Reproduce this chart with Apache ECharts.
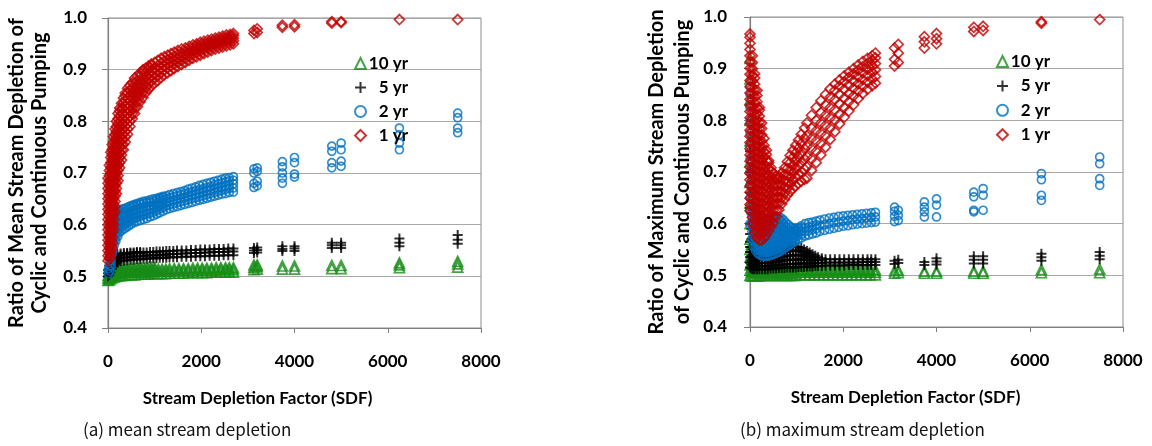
<!DOCTYPE html>
<html>
<head>
<meta charset="utf-8">
<script src="https://cdn.jsdelivr.net/npm/echarts@6/dist/echarts.min.js"></script>
<style>
  html, body { margin: 0; padding: 0; background: #fff; }
  #chart { width: 1152px; height: 446px; }
</style>
</head>
<body>
<div id="chart"></div>
<script>
// each column is [SDF, [ratios read at that SDF]]
const seriesNames = ['10 yr', '5 yr', '2 yr', '1 yr']
const xTicks = [0, 2000, 4000, 6000, 8000]
const yTicks = [0.4, 0.5, 0.6, 0.7, 0.8, 0.9, 1.0]

// (a) mean stream depletion
const meanYr10 = [
  [0, [0.492, 0.497, 0.502]], [25, [0.493, 0.498, 0.503, 0.508]], [50, [0.495, 0.5, 0.505, 0.51]],
  [90, [0.497, 0.502, 0.507, 0.512]], [130, [0.499, 0.504, 0.509, 0.513]], [180, [0.5, 0.505, 0.51, 0.514]],
  [240, [0.501, 0.506, 0.511, 0.514]], [300, [0.502, 0.507, 0.511, 0.515]], [370, [0.502, 0.507, 0.512, 0.515]],
  [440, [0.503, 0.508, 0.512, 0.515]], [510, [0.503, 0.508, 0.512, 0.516]], [580, [0.503, 0.508, 0.512, 0.516]],
  [650, [0.504, 0.509, 0.513, 0.516]], [720, [0.504, 0.509, 0.513, 0.516]], [790, [0.504, 0.509, 0.513, 0.516]],
  [860, [0.504, 0.509, 0.513, 0.517]], [930, [0.505, 0.509, 0.513, 0.517]], [1000, [0.505, 0.51, 0.514, 0.517]],
  [1080, [0.505, 0.51, 0.514]], [1160, [0.505, 0.51, 0.514]], [1240, [0.505, 0.51, 0.514]],
  [1320, [0.506, 0.51, 0.515]], [1420, [0.506, 0.511, 0.515]], [1520, [0.506, 0.511, 0.515]],
  [1620, [0.506, 0.511, 0.515]], [1720, [0.507, 0.511, 0.515]], [1820, [0.507, 0.511, 0.516]],
  [1920, [0.507, 0.512, 0.516]], [2020, [0.507, 0.512, 0.516]], [2120, [0.507, 0.512, 0.516]],
  [2220, [0.508, 0.512, 0.516]], [2320, [0.508, 0.512, 0.517]], [2420, [0.508, 0.513, 0.517]],
  [2520, [0.508, 0.513, 0.517]], [2600, [0.508, 0.513, 0.517]], [2690, [0.508, 0.513, 0.517]],
  [3130, [0.513, 0.518, 0.522]], [3200, [0.514, 0.519, 0.522]], [3740, [0.514, 0.52]], [4000, [0.514, 0.52]],
  [4800, [0.515, 0.521]], [5000, [0.515, 0.521]], [6250, [0.517, 0.522, 0.526]], [7500, [0.518, 0.524, 0.529]]
]
const meanYr5 = [
  [0, [0.5, 0.506, 0.512]], [25, [0.503, 0.509, 0.515, 0.521]], [50, [0.508, 0.514, 0.52, 0.526, 0.532]],
  [80, [0.514, 0.52, 0.526, 0.532, 0.538]], [120, [0.52, 0.526, 0.532, 0.538]], [160, [0.524, 0.53, 0.536, 0.541]],
  [200, [0.527, 0.533, 0.539, 0.543]], [270, [0.529, 0.535, 0.541, 0.544]], [340, [0.53, 0.536, 0.542, 0.545]],
  [410, [0.531, 0.537, 0.543, 0.545]], [480, [0.532, 0.538, 0.544, 0.546]], [550, [0.532, 0.538, 0.544, 0.546]],
  [620, [0.533, 0.539, 0.545, 0.547]], [690, [0.533, 0.539, 0.545, 0.547]], [760, [0.534, 0.54, 0.546]],
  [830, [0.534, 0.54, 0.546]], [900, [0.535, 0.541, 0.547]], [970, [0.535, 0.541, 0.547]],
  [1040, [0.535, 0.541, 0.548]], [1110, [0.536, 0.542, 0.548]], [1180, [0.536, 0.542, 0.548]],
  [1250, [0.536, 0.542, 0.549]], [1320, [0.537, 0.543, 0.549]], [1400, [0.537, 0.543, 0.549]],
  [1480, [0.537, 0.543, 0.55]], [1580, [0.538, 0.544, 0.55]], [1680, [0.538, 0.544, 0.55]],
  [1780, [0.538, 0.545, 0.551]], [1880, [0.539, 0.545, 0.551]], [1980, [0.539, 0.545, 0.552]],
  [2080, [0.539, 0.546, 0.552]], [2180, [0.54, 0.546, 0.552]], [2280, [0.54, 0.547, 0.553]],
  [2380, [0.54, 0.547, 0.553]], [2480, [0.541, 0.547, 0.553]], [2580, [0.541, 0.548, 0.554]],
  [2690, [0.541, 0.548, 0.554]],
  [3130, [0.545, 0.55, 0.555]], [3200, [0.546, 0.551, 0.556]], [3740, [0.549, 0.553, 0.558]],
  [4000, [0.549, 0.554, 0.558]], [4800, [0.555, 0.56, 0.565]], [5000, [0.555, 0.56, 0.565]],
  [6250, [0.558, 0.565, 0.573]], [7500, [0.563, 0.571, 0.58]]
]
const meanYr2 = [
  [10, [0.505, 0.515]], [40, [0.51, 0.52, 0.53, 0.54, 0.55, 0.56, 0.57, 0.58]],
  [70, [0.52, 0.53, 0.54, 0.55, 0.56, 0.57, 0.58, 0.59, 0.6]],
  [100, [0.545, 0.553, 0.561, 0.569, 0.577, 0.585, 0.593, 0.601, 0.609, 0.615]],
  [135, [0.56, 0.568, 0.576, 0.584, 0.592, 0.6, 0.608, 0.616, 0.621]],
  [170, [0.568, 0.576, 0.584, 0.592, 0.6, 0.608, 0.616, 0.624]],
  [210, [0.577, 0.585, 0.593, 0.601, 0.609, 0.617, 0.625]],
  [250, [0.585, 0.593, 0.601, 0.609, 0.617, 0.625, 0.628]],
  [300, [0.589, 0.597, 0.605, 0.613, 0.621, 0.63]], [350, [0.592, 0.6, 0.608, 0.616, 0.624, 0.631]],
  [400, [0.595, 0.603, 0.611, 0.619, 0.627, 0.633]], [450, [0.598, 0.606, 0.614, 0.622, 0.63, 0.635]],
  [500, [0.601, 0.609, 0.617, 0.625, 0.633, 0.637]], [560, [0.604, 0.612, 0.62, 0.628, 0.636, 0.639]],
  [620, [0.606, 0.614, 0.622, 0.63, 0.638, 0.641]], [690, [0.608, 0.616, 0.624, 0.632, 0.64, 0.643]],
  [760, [0.61, 0.618, 0.626, 0.634, 0.641, 0.645]], [830, [0.612, 0.62, 0.628, 0.636, 0.643, 0.646]],
  [900, [0.615, 0.622, 0.629, 0.636, 0.643, 0.648]], [970, [0.617, 0.624, 0.631, 0.638, 0.645, 0.65]],
  [1040, [0.62, 0.627, 0.634, 0.641, 0.648, 0.651]], [1110, [0.623, 0.63, 0.637, 0.644, 0.65, 0.653]],
  [1180, [0.626, 0.633, 0.64, 0.647, 0.653, 0.655]], [1250, [0.629, 0.636, 0.643, 0.65, 0.656]],
  [1320, [0.631, 0.638, 0.645, 0.652, 0.658]], [1400, [0.633, 0.64, 0.647, 0.654, 0.66]],
  [1480, [0.635, 0.642, 0.649, 0.656, 0.662]], [1560, [0.637, 0.644, 0.651, 0.658, 0.664]],
  [1640, [0.639, 0.646, 0.653, 0.66, 0.666]], [1720, [0.641, 0.648, 0.655, 0.662, 0.669]],
  [1800, [0.643, 0.65, 0.657, 0.664, 0.671]], [1880, [0.645, 0.652, 0.659, 0.666, 0.673]],
  [1960, [0.647, 0.654, 0.661, 0.668, 0.676]], [2040, [0.649, 0.656, 0.663, 0.67, 0.678]],
  [2120, [0.651, 0.658, 0.665, 0.672, 0.68]], [2200, [0.653, 0.66, 0.667, 0.674, 0.682]],
  [2280, [0.655, 0.662, 0.669, 0.677, 0.684]], [2360, [0.657, 0.664, 0.671, 0.679, 0.686]],
  [2440, [0.659, 0.666, 0.673, 0.681, 0.688]], [2520, [0.66, 0.668, 0.675, 0.683, 0.69]],
  [2600, [0.662, 0.67, 0.677, 0.685, 0.691]], [2690, [0.663, 0.671, 0.679, 0.686, 0.693]],
  [3130, [0.672, 0.68, 0.7, 0.708]], [3200, [0.675, 0.684, 0.703, 0.71]],
  [3740, [0.68, 0.69, 0.7, 0.712, 0.722]], [4000, [0.692, 0.698, 0.72, 0.73]],
  [4800, [0.71, 0.72, 0.742, 0.752]], [5000, [0.713, 0.723, 0.745, 0.758]],
  [6250, [0.745, 0.758, 0.774, 0.787]], [7500, [0.778, 0.787, 0.807, 0.816]]
]
const meanYr1 = [
  [0, [0.53, 0.54, 0.55, 0.56, 0.57, 0.58, 0.59, 0.6, 0.61, 0.62, 0.63, 0.64, 0.65, 0.66, 0.67, 0.68, 0.69]],
  [30, [0.535, 0.545, 0.555, 0.565, 0.575, 0.585, 0.595, 0.605, 0.615, 0.625, 0.635, 0.645, 0.655, 0.665,
        0.675, 0.685, 0.695, 0.705, 0.715]],
  [60, [0.54, 0.55, 0.56, 0.57, 0.58, 0.59, 0.6, 0.61, 0.62, 0.63, 0.64, 0.65, 0.66, 0.67, 0.68, 0.69,
        0.7, 0.71, 0.72, 0.73, 0.74]],
  [90, [0.555, 0.565, 0.575, 0.585, 0.595, 0.605, 0.615, 0.625, 0.635, 0.645, 0.655, 0.665, 0.675, 0.685,
        0.695, 0.705, 0.715, 0.725, 0.735, 0.745, 0.755]],
  [120, [0.59, 0.6, 0.61, 0.62, 0.63, 0.64, 0.65, 0.66, 0.67, 0.68, 0.69, 0.7, 0.71, 0.72, 0.73, 0.74,
         0.75, 0.76, 0.77]],
  [150, [0.625, 0.635, 0.645, 0.655, 0.665, 0.675, 0.685, 0.695, 0.705, 0.715, 0.725, 0.735, 0.745, 0.755,
         0.765, 0.775, 0.785]],
  [180, [0.66, 0.67, 0.68, 0.69, 0.7, 0.71, 0.72, 0.73, 0.74, 0.75, 0.76, 0.77, 0.78, 0.79, 0.8]],
  [215, [0.685, 0.695, 0.705, 0.715, 0.725, 0.735, 0.745, 0.755, 0.765, 0.775, 0.785, 0.795, 0.805, 0.815]],
  [250, [0.71, 0.72, 0.73, 0.74, 0.75, 0.76, 0.77, 0.78, 0.79, 0.8, 0.81, 0.82, 0.826]],
  [290, [0.725, 0.735, 0.745, 0.755, 0.765, 0.775, 0.785, 0.795, 0.805, 0.815, 0.825, 0.835]],
  [330, [0.745, 0.755, 0.765, 0.775, 0.785, 0.795, 0.805, 0.815, 0.825, 0.835, 0.845]],
  [370, [0.76, 0.77, 0.78, 0.79, 0.8, 0.81, 0.82, 0.83, 0.84, 0.85, 0.855]],
  [420, [0.775, 0.785, 0.795, 0.805, 0.815, 0.825, 0.835, 0.845, 0.855, 0.864]],
  [470, [0.79, 0.8, 0.81, 0.82, 0.83, 0.84, 0.85, 0.86, 0.87]],
  [520, [0.805, 0.815, 0.825, 0.835, 0.845, 0.855, 0.865, 0.875]],
  [570, [0.815, 0.825, 0.835, 0.845, 0.855, 0.865, 0.875, 0.884]],
  [630, [0.828, 0.838, 0.848, 0.858, 0.868, 0.878, 0.888]],
  [690, [0.838, 0.848, 0.858, 0.868, 0.878, 0.888, 0.894]],
  [750, [0.846, 0.856, 0.866, 0.876, 0.886, 0.896, 0.9]],
  [810, [0.855, 0.865, 0.875, 0.885, 0.895, 0.903]],
  [870, [0.862, 0.872, 0.882, 0.892, 0.902, 0.907]],
  [930, [0.868, 0.878, 0.888, 0.898, 0.908, 0.911]],
  [1000, [0.874, 0.884, 0.894, 0.904, 0.914]], [1070, [0.879, 0.888, 0.898, 0.908, 0.918]],
  [1140, [0.885, 0.894, 0.903, 0.913, 0.922]], [1210, [0.89, 0.899, 0.908, 0.917, 0.925]],
  [1280, [0.894, 0.903, 0.912, 0.92, 0.928]], [1350, [0.898, 0.907, 0.915, 0.923, 0.931]],
  [1420, [0.902, 0.91, 0.918, 0.926, 0.934]], [1500, [0.906, 0.914, 0.922, 0.93, 0.937]],
  [1580, [0.91, 0.918, 0.926, 0.933, 0.94]], [1660, [0.914, 0.921, 0.929, 0.936, 0.942]],
  [1740, [0.918, 0.925, 0.932, 0.939, 0.945]], [1820, [0.922, 0.929, 0.936, 0.942, 0.948]],
  [1900, [0.925, 0.932, 0.939, 0.945, 0.95]], [1980, [0.928, 0.935, 0.942, 0.948, 0.953]],
  [2060, [0.931, 0.938, 0.944, 0.95, 0.955]], [2140, [0.934, 0.941, 0.947, 0.952, 0.957]],
  [2220, [0.937, 0.943, 0.949, 0.954, 0.959]], [2300, [0.94, 0.946, 0.951, 0.956, 0.961]],
  [2380, [0.942, 0.948, 0.953, 0.958, 0.963]], [2460, [0.944, 0.95, 0.955, 0.96, 0.965]],
  [2540, [0.946, 0.952, 0.957, 0.962, 0.967]], [2620, [0.948, 0.954, 0.959, 0.964, 0.968]],
  [2690, [0.95, 0.956, 0.961, 0.966, 0.97]],
  [3130, [0.97, 0.976]], [3200, [0.972, 0.979]], [3740, [0.982, 0.986]], [4000, [0.983, 0.987]],
  [4800, [0.99, 0.993]], [5000, [0.991, 0.993]], [6250, [0.997]], [7500, [0.997]]
]

// (b) maximum stream depletion
const maxYr10 = [
  [0, [0.5, 0.51, 0.52, 0.535, 0.55, 0.57, 0.6, 0.64, 0.68, 0.72, 0.76, 0.8, 0.84, 0.88, 0.92]],
  [30, [0.499, 0.507, 0.515, 0.523, 0.533, 0.545, 0.56]], [60, [0.499, 0.506, 0.513, 0.52, 0.528, 0.537]],
  [100, [0.499, 0.505, 0.511, 0.517, 0.524]], [150, [0.499, 0.505, 0.511, 0.517]],
  [200, [0.499, 0.505, 0.511, 0.515]], [260, [0.5, 0.505, 0.51]], [320, [0.5, 0.505, 0.51]],
  [380, [0.5, 0.505, 0.51]], [440, [0.5, 0.505, 0.51]], [500, [0.5, 0.505, 0.51]], [560, [0.5, 0.505, 0.51]],
  [620, [0.5, 0.505, 0.51]], [680, [0.5, 0.505, 0.51]], [740, [0.5, 0.505, 0.51]], [800, [0.5, 0.505, 0.51]],
  [860, [0.5, 0.505, 0.51]], [920, [0.5, 0.505, 0.51]], [980, [0.5, 0.505, 0.51]],
  [1080, [0.501, 0.506, 0.511]], [1180, [0.501, 0.506, 0.511]], [1280, [0.501, 0.506, 0.511]],
  [1380, [0.501, 0.506, 0.511]], [1480, [0.501, 0.506, 0.511]], [1580, [0.501, 0.506, 0.511]],
  [1680, [0.501, 0.506, 0.511]], [1780, [0.501, 0.506, 0.511]], [1880, [0.501, 0.506, 0.511]],
  [1980, [0.501, 0.506, 0.511]], [2080, [0.501, 0.506, 0.511]], [2180, [0.501, 0.506, 0.511]],
  [2280, [0.501, 0.506, 0.511]], [2380, [0.501, 0.506, 0.511]], [2480, [0.501, 0.506, 0.511]],
  [2580, [0.501, 0.506, 0.511]], [2690, [0.501, 0.506, 0.511]],
  [3100, [0.504, 0.509]], [3180, [0.505, 0.51]], [3740, [0.504, 0.508]], [4000, [0.504, 0.508]],
  [4800, [0.504, 0.508]], [5000, [0.504, 0.508]], [6250, [0.505, 0.511]], [7500, [0.505, 0.512]]
]
const maxYr5 = [
  [0, [0.515, 0.525, 0.535, 0.545, 0.555, 0.565, 0.58, 0.6, 0.63, 0.66, 0.7, 0.74]],
  [30, [0.513, 0.521, 0.529, 0.537, 0.545, 0.555, 0.57, 0.59, 0.62]],
  [60, [0.512, 0.519, 0.526, 0.533, 0.54, 0.55, 0.565, 0.58]],
  [100, [0.512, 0.518, 0.524, 0.53, 0.536, 0.544, 0.553, 0.562]],
  [150, [0.512, 0.518, 0.524, 0.53, 0.536, 0.542, 0.548]], [200, [0.512, 0.518, 0.524, 0.53, 0.536, 0.542]],
  [260, [0.512, 0.518, 0.524, 0.53, 0.535, 0.54]], [320, [0.512, 0.518, 0.524, 0.53, 0.535, 0.54]],
  [380, [0.512, 0.518, 0.524, 0.53, 0.536, 0.541]], [440, [0.513, 0.519, 0.525, 0.531, 0.537, 0.543]],
  [500, [0.513, 0.519, 0.525, 0.531, 0.538, 0.545]], [560, [0.513, 0.519, 0.526, 0.533, 0.54, 0.547]],
  [620, [0.514, 0.52, 0.527, 0.534, 0.541, 0.549]], [680, [0.514, 0.521, 0.528, 0.536, 0.544, 0.551]],
  [740, [0.514, 0.521, 0.529, 0.537, 0.545, 0.553]], [800, [0.515, 0.522, 0.53, 0.538, 0.546, 0.554]],
  [860, [0.515, 0.522, 0.53, 0.538, 0.547, 0.555]], [920, [0.515, 0.522, 0.53, 0.539, 0.548, 0.556]],
  [980, [0.515, 0.522, 0.53, 0.539, 0.548, 0.556]], [1040, [0.516, 0.523, 0.531, 0.539, 0.547, 0.555]],
  [1100, [0.516, 0.523, 0.531, 0.539, 0.546, 0.553]], [1160, [0.516, 0.523, 0.53, 0.537, 0.544, 0.55]],
  [1220, [0.517, 0.523, 0.53, 0.536, 0.542, 0.547]], [1280, [0.517, 0.523, 0.529, 0.535, 0.54, 0.544]],
  [1340, [0.517, 0.523, 0.529, 0.535, 0.541]], [1400, [0.518, 0.524, 0.53, 0.538]],
  [1460, [0.518, 0.524, 0.53, 0.535]], [1540, [0.518, 0.524, 0.529, 0.533]],
  [1620, [0.519, 0.525, 0.531]], [1720, [0.519, 0.525, 0.531]], [1820, [0.519, 0.525, 0.531]],
  [1920, [0.519, 0.525, 0.531]], [2020, [0.519, 0.525, 0.531]], [2120, [0.52, 0.525, 0.531]],
  [2220, [0.52, 0.525, 0.531]], [2320, [0.52, 0.525, 0.531]], [2420, [0.52, 0.526, 0.531]],
  [2520, [0.52, 0.526, 0.531]], [2600, [0.52, 0.526, 0.531]], [2690, [0.52, 0.526, 0.531]],
  [3100, [0.522, 0.528]], [3180, [0.524, 0.53]], [3740, [0.52, 0.526]], [4000, [0.521, 0.527, 0.533]],
  [4800, [0.523, 0.53, 0.537]], [5000, [0.523, 0.53, 0.537]], [6250, [0.528, 0.535, 0.542]],
  [7500, [0.531, 0.538, 0.545]]
]
const maxYr2 = [
  [0, [0.6, 0.625, 0.65, 0.675, 0.7, 0.725, 0.75, 0.775, 0.8, 0.825, 0.85, 0.865]],
  [40, [0.57, 0.585, 0.6, 0.615, 0.63, 0.645, 0.66, 0.675, 0.69, 0.705, 0.72]],
  [80, [0.555, 0.565, 0.575, 0.585, 0.595, 0.605, 0.615, 0.625, 0.64, 0.66]],
  [120, [0.548, 0.556, 0.564, 0.572, 0.58, 0.588, 0.596, 0.604, 0.612, 0.625]],
  [170, [0.542, 0.55, 0.558, 0.566, 0.574, 0.582, 0.59, 0.598, 0.606, 0.612]],
  [220, [0.539, 0.547, 0.555, 0.563, 0.571, 0.579, 0.587, 0.595, 0.603, 0.608]],
  [270, [0.537, 0.545, 0.553, 0.561, 0.569, 0.577, 0.585, 0.593, 0.601, 0.607]],
  [320, [0.537, 0.545, 0.553, 0.561, 0.569, 0.577, 0.585, 0.593, 0.601, 0.607]],
  [370, [0.537, 0.545, 0.553, 0.561, 0.569, 0.577, 0.585, 0.593, 0.601, 0.608]],
  [420, [0.538, 0.546, 0.554, 0.562, 0.57, 0.578, 0.586, 0.594, 0.602, 0.609]],
  [470, [0.539, 0.547, 0.555, 0.563, 0.571, 0.579, 0.587, 0.595, 0.603, 0.61]],
  [520, [0.541, 0.549, 0.557, 0.565, 0.573, 0.581, 0.589, 0.597, 0.605, 0.611]],
  [570, [0.543, 0.551, 0.559, 0.567, 0.575, 0.583, 0.591, 0.599, 0.607, 0.612]],
  [620, [0.545, 0.553, 0.561, 0.569, 0.577, 0.585, 0.593, 0.601, 0.609, 0.613]],
  [670, [0.548, 0.556, 0.564, 0.572, 0.58, 0.588, 0.596, 0.604, 0.611]],
  [720, [0.551, 0.559, 0.567, 0.575, 0.583, 0.591, 0.599, 0.607]],
  [770, [0.554, 0.562, 0.57, 0.578, 0.586, 0.594, 0.602]],
  [820, [0.557, 0.565, 0.573, 0.581, 0.589, 0.598]], [870, [0.56, 0.568, 0.576, 0.584, 0.594]],
  [920, [0.563, 0.571, 0.579, 0.586, 0.591]], [970, [0.566, 0.573, 0.58, 0.586, 0.591]],
  [1030, [0.569, 0.576, 0.583, 0.589, 0.592]], [1100, [0.572, 0.579, 0.586, 0.592, 0.596]],
  [1180, [0.576, 0.584, 0.592, 0.6]], [1260, [0.578, 0.586, 0.594, 0.602]],
  [1340, [0.58, 0.588, 0.596, 0.603]], [1420, [0.582, 0.59, 0.598, 0.605]],
  [1500, [0.585, 0.596, 0.607]], [1600, [0.587, 0.598, 0.609]], [1700, [0.589, 0.6, 0.611]],
  [1800, [0.591, 0.602, 0.612]], [1900, [0.593, 0.603, 0.614]], [2000, [0.595, 0.605, 0.615]],
  [2100, [0.596, 0.606, 0.616]], [2200, [0.598, 0.608, 0.617]], [2300, [0.599, 0.609, 0.618]],
  [2400, [0.6, 0.61, 0.619]], [2500, [0.601, 0.611, 0.62]], [2600, [0.602, 0.612, 0.621]],
  [2690, [0.603, 0.613, 0.622]],
  [3100, [0.604, 0.614, 0.624, 0.632]], [3180, [0.606, 0.616, 0.626]],
  [3740, [0.613, 0.623, 0.632, 0.642]], [4000, [0.613, 0.636, 0.648]],
  [4800, [0.623, 0.626, 0.652, 0.661]], [5000, [0.626, 0.655, 0.668]],
  [6250, [0.645, 0.655, 0.685, 0.697]], [7500, [0.674, 0.687, 0.716, 0.729]]
]
const maxYr1 = [
  [0, [0.625, 0.637, 0.649, 0.661, 0.673, 0.685, 0.697, 0.709, 0.721, 0.733, 0.745, 0.757, 0.769, 0.781,
       0.793, 0.805, 0.817, 0.829, 0.841, 0.853, 0.865, 0.877, 0.889, 0.901, 0.913, 0.925, 0.937, 0.949,
       0.961, 0.967]],
  [50, [0.6, 0.612, 0.624, 0.636, 0.648, 0.66, 0.672, 0.684, 0.696, 0.708, 0.72, 0.732, 0.744, 0.756,
        0.768, 0.78, 0.792, 0.804, 0.816, 0.828, 0.84, 0.852, 0.864, 0.876, 0.888, 0.9, 0.912, 0.925]],
  [100, [0.582, 0.594, 0.606, 0.618, 0.63, 0.642, 0.654, 0.666, 0.678, 0.69, 0.702, 0.714, 0.726, 0.738,
         0.75, 0.762, 0.774, 0.786, 0.798, 0.81, 0.822, 0.834, 0.846, 0.858, 0.87, 0.882, 0.89]],
  [150, [0.572, 0.584, 0.596, 0.608, 0.62, 0.632, 0.644, 0.656, 0.668, 0.68, 0.692, 0.704, 0.716, 0.728,
         0.74, 0.752, 0.764, 0.776, 0.788, 0.8, 0.812, 0.824, 0.836, 0.848, 0.858]],
  [200, [0.568, 0.58, 0.592, 0.604, 0.616, 0.628, 0.64, 0.652, 0.664, 0.676, 0.688, 0.7, 0.712, 0.724,
         0.736, 0.748, 0.76, 0.772, 0.784, 0.796, 0.808, 0.82, 0.825]],
  [250, [0.568, 0.58, 0.592, 0.604, 0.616, 0.628, 0.64, 0.652, 0.664, 0.676, 0.688, 0.7, 0.712, 0.724,
         0.736, 0.748, 0.76, 0.772, 0.784, 0.795]],
  [300, [0.572, 0.584, 0.596, 0.608, 0.62, 0.632, 0.644, 0.656, 0.668, 0.68, 0.692, 0.704, 0.716, 0.728,
         0.74, 0.752, 0.765]],
  [350, [0.578, 0.59, 0.602, 0.614, 0.626, 0.638, 0.65, 0.662, 0.674, 0.686, 0.698, 0.71, 0.722, 0.734, 0.742]],
  [400, [0.586, 0.598, 0.61, 0.622, 0.634, 0.646, 0.658, 0.67, 0.682, 0.694, 0.706, 0.718, 0.722]],
  [450, [0.594, 0.606, 0.618, 0.63, 0.642, 0.654, 0.666, 0.678, 0.69, 0.702, 0.708]],
  [500, [0.602, 0.614, 0.626, 0.638, 0.65, 0.662, 0.674, 0.686, 0.698]],
  [560, [0.614, 0.626, 0.638, 0.65, 0.662, 0.674, 0.686, 0.692]],
  [620, [0.627, 0.639, 0.651, 0.663, 0.675, 0.687, 0.692]],
  [680, [0.638, 0.65, 0.662, 0.674, 0.686, 0.698]],
  [740, [0.647, 0.659, 0.671, 0.683, 0.695, 0.708]],
  [800, [0.655, 0.668, 0.681, 0.694, 0.707, 0.72]],
  [860, [0.662, 0.676, 0.69, 0.704, 0.718, 0.732]],
  [920, [0.668, 0.683, 0.698, 0.713, 0.728, 0.742]],
  [980, [0.673, 0.689, 0.705, 0.721, 0.737, 0.752]],
  [1040, [0.678, 0.695, 0.712, 0.729, 0.746, 0.762]],
  [1100, [0.682, 0.7, 0.718, 0.736, 0.755, 0.773]],
  [1170, [0.686, 0.705, 0.725, 0.745, 0.765, 0.785]],
  [1220, [0.688, 0.71, 0.73, 0.75, 0.77, 0.795]],
  [1320, [0.703, 0.725, 0.745, 0.765, 0.785, 0.81]],
  [1420, [0.718, 0.74, 0.76, 0.78, 0.8, 0.825]],
  [1520, [0.733, 0.755, 0.775, 0.795, 0.815, 0.838]],
  [1620, [0.748, 0.77, 0.79, 0.81, 0.83, 0.85]],
  [1720, [0.763, 0.785, 0.805, 0.825, 0.845, 0.861]],
  [1820, [0.778, 0.8, 0.82, 0.84, 0.858, 0.87]],
  [1920, [0.793, 0.812, 0.832, 0.85, 0.866, 0.878]],
  [2020, [0.806, 0.825, 0.843, 0.86, 0.875, 0.886]],
  [2120, [0.818, 0.836, 0.852, 0.868, 0.883, 0.893]],
  [2220, [0.83, 0.847, 0.862, 0.876, 0.89, 0.9]],
  [2320, [0.842, 0.857, 0.871, 0.884, 0.897, 0.907]],
  [2420, [0.852, 0.866, 0.879, 0.892, 0.904, 0.914]],
  [2520, [0.86, 0.874, 0.887, 0.899, 0.91, 0.92]],
  [2620, [0.867, 0.88, 0.893, 0.905, 0.916, 0.925]],
  [2690, [0.872, 0.885, 0.898, 0.91, 0.921, 0.93]],
  [3100, [0.905, 0.918, 0.94]], [3180, [0.912, 0.93, 0.947]],
  [3740, [0.94, 0.952, 0.962]], [4000, [0.948, 0.958, 0.968]],
  [4800, [0.972, 0.98]], [5000, [0.974, 0.982]], [6250, [0.988, 0.991]], [7500, [0.995]]
]

const colors = ['#178c17', '#000000', '#0070c0', '#c00000']
const symbols = ['triangle', 'path://M0,5L10,5M5,0L5,10', 'circle', 'diamond']
const symbolSizes = [10, 10, 8, 10]
const lineWidths = [1.7, 2, 1.7, 1.7]

const FONT = 'Lato'

function toPoints(cols) {
  const pts = []
  cols.forEach(function (c) {
    c[1].forEach(function (y) { pts.push([c[0], y]) })
  })
  return pts
}

function makeSeries(i, cols, idx) {
  return {
    name: seriesNames[i],
    type: 'scatter',
    xAxisIndex: idx,
    yAxisIndex: idx,
    symbol: symbols[i],
    symbolSize: symbolSizes[i],
    data: toPoints(cols),
    itemStyle: { color: 'rgba(0,0,0,0)', borderColor: colors[i], borderWidth: lineWidths[i] },
    emphasis: { disabled: true },
    silent: true
  }
}

// the axis titles sit left of the plot centre in the original, so pad them on the right
function xAxis(idx, shift) {
  return {
    gridIndex: idx,
    type: 'value',
    min: xTicks[0],
    max: xTicks[xTicks.length - 1],
    interval: xTicks[1] - xTicks[0],
    name: 'Stream Depletion Factor (SDF)',
    nameLocation: 'middle',
    nameGap: 60,
    nameTextStyle: {
      fontFamily: FONT, fontWeight: 'bold', fontSize: 17, color: '#000', lineHeight: 21,
      padding: [0, shift * 2, 0, 0]
    },
    axisLine: { lineStyle: { color: '#808080', width: 1.2 } },
    axisTick: { length: 5, lineStyle: { color: '#808080' } },
    axisLabel: {
      margin: 25, fontFamily: FONT, fontWeight: 'bold', fontSize: 17, color: '#000',
      formatter: function (v) { return String(v) }
    },
    splitLine: { show: false }
  }
}

function yAxis(idx, name, gap, lh, margin) {
  return {
    gridIndex: idx,
    type: 'value',
    min: yTicks[0],
    max: yTicks[yTicks.length - 1],
    interval: 0.1,
    name: name,
    nameLocation: 'middle',
    nameRotate: 90,
    nameGap: gap,
    nameTextStyle: { fontFamily: FONT, fontWeight: 'bold', fontSize: 20, color: '#000', lineHeight: lh },
    axisLine: { lineStyle: { color: '#808080', width: 1.2 } },
    axisTick: { length: 6, lineStyle: { color: '#808080' } },
    axisLabel: {
      margin: margin, fontFamily: FONT, fontWeight: 'bold', fontSize: 17, color: '#000',
      formatter: function (v) { return v.toFixed(1) }
    },
    splitLine: { lineStyle: { color: '#a8a8a8', width: 1 } }
  }
}

function legend(left, top, gap) {
  return {
    orient: 'vertical',
    left: left,
    top: top,
    padding: 0,
    itemWidth: 11,
    itemHeight: 11,
    itemGap: gap,
    selectedMode: false,
    data: seriesNames,
    formatter: '{t|{name}}',
    textStyle: {
      color: '#000', fontFamily: FONT, fontWeight: 'bold', fontSize: 17,
      rich: { t: { width: 37, align: 'right', fontFamily: FONT, fontWeight: 'bold', fontSize: 17 } }
    }
  }
}

const chart = echarts.init(document.getElementById('chart'))
chart.setOption({
  animation: false,
  backgroundColor: '#fff',
  grid: [
    { left: 108, top: 18, width: 373, height: 310, show: true, borderColor: '#8c8c8c', borderWidth: 1 },
    { left: 750, top: 17, width: 373, height: 310, show: true, borderColor: '#8c8c8c', borderWidth: 1 }
  ],
  xAxis: [xAxis(0, 37), xAxis(1, 31)],
  yAxis: [
    yAxis(0, 'Ratio of Mean Stream Depletion of\nCyclic and Continuous Pumping', 57, 23, 21),
    yAxis(1, 'Ratio of Maximum Stream Depletion\nof Cyclic and Continuous Pumping', 54, 26, 23)
  ],
  legend: [legend(354, 55, 7), legend(996, 53, 7.4)],
  graphic: [
    { type: 'text', left: 83, top: 421, style: { text: '(a) mean stream depletion', font: '17px "Noto Sans CJK KR"', fill: '#111' } },
    { type: 'text', left: 740, top: 421, style: { text: '(b) maximum stream depletion', font: '17px "Noto Sans CJK KR"', fill: '#111' } }
  ],
  series: [
    makeSeries(0, meanYr10, 0), makeSeries(1, meanYr5, 0), makeSeries(2, meanYr2, 0), makeSeries(3, meanYr1, 0),
    makeSeries(0, maxYr10, 1), makeSeries(1, maxYr5, 1), makeSeries(2, maxYr2, 1), makeSeries(3, maxYr1, 1)
  ]
})
</script>
</body>
</html>
